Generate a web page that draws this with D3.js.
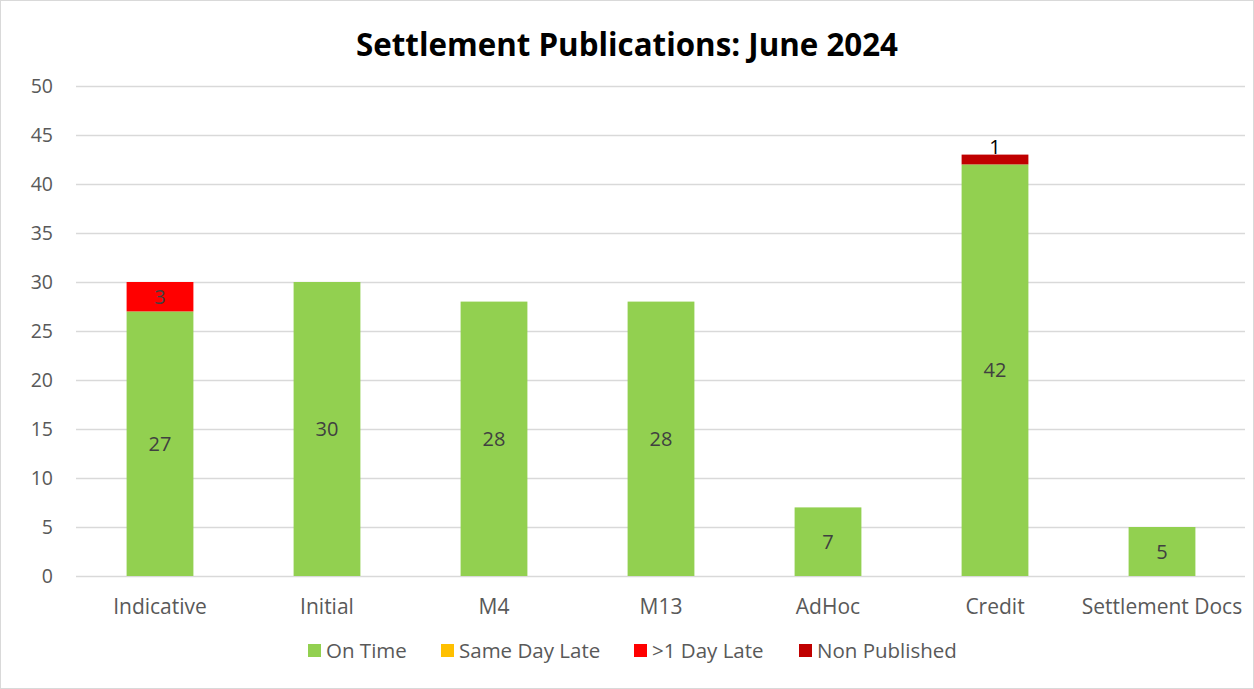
<!doctype html>
<html>
  <head>
    <script src="https://cdnjs.cloudflare.com/ajax/libs/d3/7.8.5/d3.min.js"></script>
    <style>
      body { margin: 0; background: #fff; }
      text { font-family: "Open Sans", "Noto Sans", sans-serif; }
    </style>
  </head>
  <body>
    <svg width="1254" height="689"></svg>
    <script>
        var categories = ["Indicative", "Initial", "M4", "M13", "AdHoc", "Credit", "Settlement Docs"];
        var seriesNames = ["On Time", "Same Day Late", ">1 Day Late", "Non Published"];
        var onTime = [27, 30, 28, 28, 7, 42, 5];
        var sameDayLate = [0, 0, 0, 0, 0, 0, 0];
        var dayLate = [3, 0, 0, 0, 0, 0, 0];
        var nonPublished = [0, 0, 0, 0, 0, 1, 0];
        var yTicks = [0, 5, 10, 15, 20, 25, 30, 35, 40, 45, 50];
        var colors = ["#92D050", "#FFC000", "#FF0000", "#C00000"];

        var rows = categories.map((c, i) => ({
            cat: c,
            "On Time": onTime[i],
            "Same Day Late": sameDayLate[i],
            ">1 Day Late": dayLate[i],
            "Non Published": nonPublished[i]
        }));

        var svg = d3.select("svg");
        svg.append("rect")
            .attr("x", 0.5).attr("y", 0.5).attr("width", 1253).attr("height", 688)
            .attr("fill", "#fff").attr("stroke", "#d9d9d9");

        var x = d3.scaleBand().domain(categories).range([76.5, 1245.5]).paddingInner(0.6).paddingOuter(0.3);
        var y = d3.scaleLinear().domain([0, 50]).range([576, 86]);

        svg.append("text")
            .attr("x", 627).attr("y", 56)
            .attr("text-anchor", "middle")
            .attr("font-size", 31.3).attr("font-weight", "bold").attr("fill", "#000")
            .text("Settlement Publications: June 2024");

        // gridlines
        svg.append("g").selectAll("line")
            .data(yTicks).enter().append("line")
                .attr("x1", 76).attr("x2", 1245)
                .attr("y1", d => Math.round(y(d)) + 0.5)
                .attr("y2", d => Math.round(y(d)) + 0.5)
                .attr("stroke", "#d9d9d9").attr("stroke-width", 1.3);

        var yAxis = svg.append("g")
            .attr("transform", "translate(60,0)")
            .call(d3.axisLeft(y).tickValues(yTicks).tickSize(0).tickPadding(7));
        yAxis.select(".domain").remove();
        yAxis.selectAll("text").attr("font-size", 19.5).attr("fill", "#595959")
            .attr("font-family", "'Open Sans', sans-serif");

        var xAxis = svg.append("g")
            .attr("transform", "translate(0,576)")
            .call(d3.axisBottom(x).tickSize(0).tickPadding(23));
        xAxis.select(".domain").remove();
        xAxis.selectAll("text").attr("font-size", 21).attr("fill", "#595959")
            .attr("font-family", "'Open Sans', sans-serif");

        var stacked = d3.stack().keys(seriesNames)(rows);

        var layers = svg.append("g").selectAll("g")
            .data(stacked).enter().append("g")
                .attr("fill", (d, i) => colors[i]);

        layers.selectAll("rect")
            .data(d => d).enter().append("rect")
                .attr("x", d => x(d.data.cat))
                .attr("width", x.bandwidth())
                .attr("y", d => y(d[1]))
                .attr("height", d => y(d[0]) - y(d[1]));

        // value labels
        stacked.forEach((s, si) => {
            s.forEach(d => {
                var v = d[1] - d[0];
                if (v <= 0) return;
                var small = (y(d[0]) - y(d[1])) < 20;
                svg.append("text")
                    .attr("x", x(d.data.cat) + x.bandwidth() / 2)
                    .attr("y", small ? y(d[1]) - 1 : y((d[0] + d[1]) / 2) + 7)
                    .attr("text-anchor", "middle")
                    .attr("font-size", 20)
                    .attr("fill", small ? "#000" : "#404040")
                    .text(v);
            });
        });

        // legend
        var legendX = [308, 441, 634, 799];
        var legend = svg.append("g").selectAll("g")
            .data(seriesNames).enter().append("g")
                .attr("transform", (d, i) => "translate(" + legendX[i] + ",644)");
        legend.append("rect").attr("width", 13).attr("height", 13)
            .attr("fill", (d, i) => colors[i]);
        legend.append("text").attr("x", 18).attr("y", 14)
            .attr("font-size", 20.5).attr("fill", "#595959")
            .text(d => d);
    </script>
  </body>
</html>
